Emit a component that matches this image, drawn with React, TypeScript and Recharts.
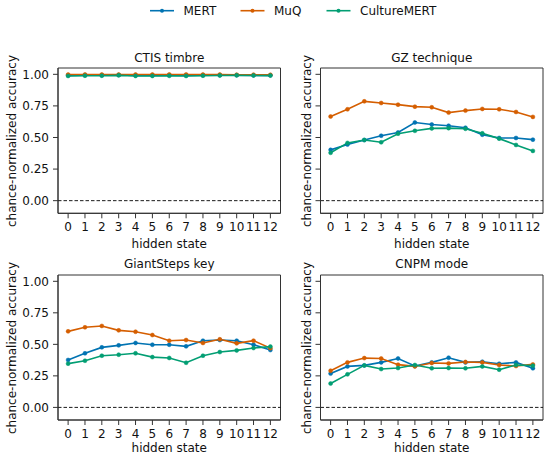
import React from "react";
import { LineChart, Line, XAxis, YAxis, ReferenceLine, ReferenceArea } from "recharts";

const hiddenStates = [0, 1, 2, 3, 4, 5, 6, 7, 8, 9, 10, 11, 12];
const yTicks = [0, 0.25, 0.5, 0.75, 1.0];
const yDomain = [-0.1, 1.05];
const xDomain = [-0.6, 12.6];

const seriesNames = ["MERT", "MuQ", "CultureMERT"];
const seriesColors = ["#0173b2", "#d55e00", "#029e73"];

// CTIS timbre
const ctisMERT = [0.992, 0.993, 0.993, 0.994, 0.992, 0.992, 0.993, 0.992, 0.993, 0.993, 0.993, 0.992, 0.992];
const ctisMuQ = [0.998, 0.999, 0.998, 0.998, 0.998, 0.998, 0.999, 0.999, 0.998, 0.998, 0.997, 0.997, 0.996];
const ctisCulture = [0.987, 0.989, 0.989, 0.992, 0.987, 0.987, 0.988, 0.987, 0.989, 0.991, 0.992, 0.991, 0.99];

// GZ technique
const gzMERT = [0.402, 0.444, 0.48, 0.514, 0.54, 0.619, 0.603, 0.593, 0.577, 0.522, 0.496, 0.496, 0.483];
const gzMuQ = [0.666, 0.723, 0.786, 0.773, 0.76, 0.744, 0.739, 0.697, 0.713, 0.726, 0.723, 0.702, 0.663];
const gzCulture = [0.379, 0.457, 0.48, 0.462, 0.53, 0.553, 0.572, 0.574, 0.569, 0.533, 0.491, 0.441, 0.394];

// GiantSteps key
const gsMERT = [0.376, 0.429, 0.476, 0.492, 0.511, 0.497, 0.497, 0.484, 0.529, 0.534, 0.529, 0.497, 0.455];
const gsMuQ = [0.603, 0.635, 0.646, 0.611, 0.6, 0.574, 0.529, 0.534, 0.511, 0.54, 0.508, 0.529, 0.47];
const gsCulture = [0.347, 0.37, 0.41, 0.418, 0.429, 0.399, 0.392, 0.354, 0.41, 0.439, 0.452, 0.471, 0.482];

// CNPM mode
const cnMERT = [0.268, 0.325, 0.333, 0.357, 0.388, 0.328, 0.357, 0.394, 0.357, 0.362, 0.346, 0.357, 0.31];
const cnMuQ = [0.291, 0.357, 0.391, 0.388, 0.339, 0.325, 0.352, 0.349, 0.36, 0.357, 0.336, 0.328, 0.341];
const cnCulture = [0.189, 0.262, 0.333, 0.304, 0.312, 0.336, 0.31, 0.312, 0.31, 0.325, 0.299, 0.336, 0.331];

const panelTitles = ["CTIS timbre", "GZ technique", "GiantSteps key", "CNPM mode"];
const xLabel = "hidden state";
const yLabel = "chance-normalized accuracy";

const build = (a: number[], b: number[], c: number[]) =>
  hiddenStates.map((h, i) => ({ h, s0: a[i], s1: b[i], s2: c[i] }));

const panelData = [
  build(ctisMERT, ctisMuQ, ctisCulture),
  build(gzMERT, gzMuQ, gzCulture),
  build(gsMERT, gsMuQ, gsCulture),
  build(cnMERT, cnMuQ, cnCulture),
];

const FONT = "'DejaVu Sans', sans-serif";
const AXIS = "#333";

type PanelProps = {
  data: any[];
  left: number;
  top: number;
  width: number;
  height: number;
  marginTop: number;
  marginRight: number;
  yAxisWidth: number;
  xAxisHeight: number;
  showYLabels: boolean;
};

function Panel(p: PanelProps) {
  return (
    <div style={{ position: "absolute", left: p.left, top: p.top, width: p.width, height: p.height }}>
      <LineChart
        width={p.width}
        height={p.height}
        data={p.data}
        margin={{ top: p.marginTop, right: p.marginRight, bottom: 0, left: 0 }}
      >
        <XAxis
          dataKey="h"
          type="number"
          domain={xDomain}
          ticks={hiddenStates}
          interval={0}
          allowDataOverflow
          height={p.xAxisHeight}
          tickSize={5}
          tickMargin={4}
          stroke={AXIS}
          tick={{ fontSize: 12, fill: "#111", fontFamily: FONT }}
          tickLine={{ stroke: AXIS, strokeWidth: 1 }}
          axisLine={{ stroke: AXIS, strokeWidth: 1 }}
        />
        <YAxis
          type="number"
          domain={yDomain}
          ticks={yTicks}
          allowDataOverflow
          width={p.yAxisWidth}
          tickSize={5}
          tickMargin={4}
          interval={0}
          tickFormatter={(v: number) => (p.showYLabels ? v.toFixed(2) : "")}
          tick={{ fontSize: 12, fill: "#111", fontFamily: FONT }}
          tickLine={{ stroke: AXIS, strokeWidth: 1 }}
          axisLine={{ stroke: AXIS, strokeWidth: 1 }}
        />
        <ReferenceArea
          x1={xDomain[0]}
          x2={xDomain[1]}
          y1={yDomain[0]}
          y2={yDomain[1]}
          fill="none"
          fillOpacity={0}
          stroke={AXIS}
          strokeWidth={1}
          ifOverflow="visible"
        />
        <ReferenceLine y={0} stroke="#000" strokeWidth={0.9} strokeDasharray="3.5 2" />
        {seriesNames.map((name, i) => (
          <Line
            key={name}
            dataKey={"s" + i}
            name={name}
            stroke={seriesColors[i]}
            strokeWidth={1.6}
            dot={{ r: 2, fill: seriesColors[i], stroke: seriesColors[i], strokeWidth: 0.5 }}
            activeDot={false}
            isAnimationActive={false}
          />
        ))}
      </LineChart>
    </div>
  );
}

const textStyle: React.CSSProperties = {
  position: "absolute",
  fontFamily: FONT,
  fontSize: 12,
  lineHeight: "14px",
  color: "#111",
  whiteSpace: "nowrap",
  textAlign: "center",
};

function CenterText({ text, cx, baseline }: { text: string; cx: number; baseline: number }) {
  return (
    <div style={{ ...textStyle, left: cx - 100, width: 200, top: baseline - 11.15 }}>{text}</div>
  );
}

function VText({ text, cx, cy }: { text: string; cx: number; cy: number }) {
  return (
    <div
      style={{
        ...textStyle,
        left: cx - 100,
        width: 200,
        top: cy - 7,
        transform: "rotate(-90deg)",
        transformOrigin: "50% 50%",
      }}
    >
      {text}
    </div>
  );
}

function Legend() {
  const items = [
    { x: 150, tx: 183.5 },
    { x: 240.5, tx: 274 },
    { x: 326.5, tx: 360 },
  ];
  return (
    <>
      <svg style={{ position: "absolute", left: 0, top: 0 }} width={550} height={25}>
        {items.map((it, i) => (
          <g key={i}>
            <line x1={it.x} x2={it.x + 24} y1={10.7} y2={10.7} stroke={seriesColors[i]} strokeWidth={1.6} />
            <circle cx={it.x + 12} cy={10.7} r={2} fill={seriesColors[i]} />
          </g>
        ))}
      </svg>
      {items.map((it, i) => (
        <div key={i} style={{ ...textStyle, textAlign: "left", left: it.tx, top: 15 - 11.15 }}>
          {seriesNames[i]}
        </div>
      ))}
    </>
  );
}

export default function App() {
  const leftCx = (58 + 280.5) / 2;
  const rightCx = (320.5 + 543) / 2;
  return (
    <div style={{ position: "absolute", left: 0, top: 0, width: 550, height: 460, background: "#fff", fontFamily: FONT }}>
      <Legend />
      <Panel data={panelData[0]} left={0} top={0} width={290} height={250} marginTop={68} marginRight={9.5} yAxisWidth={58} xAxisHeight={36.7} showYLabels />
      <Panel data={panelData[1]} left={275} top={0} width={275} height={250} marginTop={68} marginRight={7} yAxisWidth={45.5} xAxisHeight={36.7} showYLabels={false} />
      <Panel data={panelData[2]} left={0} top={250} width={290} height={210} marginTop={25} marginRight={9.5} yAxisWidth={58} xAxisHeight={40} showYLabels />
      <Panel data={panelData[3]} left={275} top={250} width={275} height={210} marginTop={25} marginRight={7} yAxisWidth={45.5} xAxisHeight={40} showYLabels={false} />

      <CenterText text={panelTitles[0]} cx={leftCx} baseline={62} />
      <CenterText text={panelTitles[1]} cx={rightCx} baseline={62} />
      <CenterText text={panelTitles[2]} cx={leftCx} baseline={268} />
      <CenterText text={panelTitles[3]} cx={rightCx} baseline={268} />

      <CenterText text={xLabel} cx={leftCx} baseline={248} />
      <CenterText text={xLabel} cx={rightCx} baseline={248} />
      <CenterText text={xLabel} cx={leftCx} baseline={452.5} />
      <CenterText text={xLabel} cx={rightCx} baseline={452.5} />

      <VText text={yLabel} cx={12.2} cy={140.6} />
      <VText text={yLabel} cx={307} cy={140.6} />
      <VText text={yLabel} cx={12.2} cy={347.5} />
      <VText text={yLabel} cx={307} cy={347.5} />
    </div>
  );
}
